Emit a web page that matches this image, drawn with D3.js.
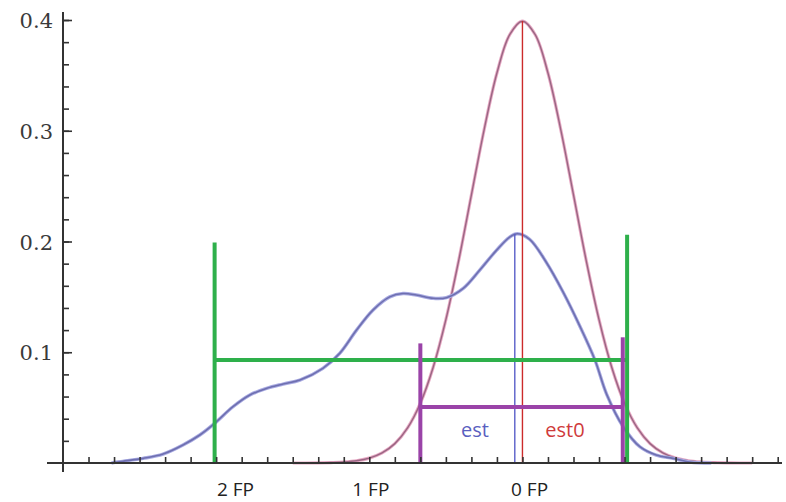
<!DOCTYPE html>
<html>
<head>
<meta charset="utf-8">
<script src="https://cdn.jsdelivr.net/npm/d3@7"></script>
<style>
  html, body { margin: 0; padding: 0; background: #ffffff; }
  svg { display: block; }
</style>
</head>
<body>
<svg id="chart" width="786" height="502"></svg>
<script>
// ---- data ----
const estX = [-8.05, -7.89, -7.43, -7.04, -6.65, -6.32, -6.03, -5.67, -5.34, -5.01, -4.69, -4.36, -3.91, -3.58, -3.25, -2.93, -2.60, -2.34, -2.08, -1.75, -1.49, -1.16, -0.84, -0.51, -0.25, -0.10, 0.14, 0.47, 0.80, 1.12, 1.42, 1.65, 1.97, 2.30, 2.62, 2.95, 3.28, 3.70];
const estY = [0, 0.0012, 0.0042, 0.0081, 0.0163, 0.0253, 0.0358, 0.0508, 0.0614, 0.0674, 0.0713, 0.0749, 0.0855, 0.099, 0.120, 0.138, 0.150, 0.153, 0.1517, 0.1487, 0.1493, 0.1577, 0.174, 0.192, 0.204, 0.207, 0.202, 0.181, 0.154, 0.124, 0.093, 0.062, 0.033, 0.0147, 0.0072, 0.0042, 0.0009, 0];

const est0X = [-4.5, -4.25, -4, -3.75, -3.5, -3.25, -3, -2.75, -2.5, -2.25, -2, -1.75, -1.5, -1.25, -1, -0.75, -0.5, -0.25, 0, 0.25, 0.5, 0.75, 1, 1.25, 1.5, 1.75, 2, 2.25, 2.5, 2.75, 3, 3.25, 3.5, 3.75, 4, 4.25, 4.5];
const est0Y = [0, 0, 0.0001, 0.0004, 0.0009, 0.0020, 0.0044, 0.0091, 0.0175, 0.0317, 0.0540, 0.0863, 0.1295, 0.1826, 0.2420, 0.3011, 0.3521, 0.3867, 0.3989, 0.3867, 0.3521, 0.3011, 0.2420, 0.1826, 0.1295, 0.0863, 0.0540, 0.0317, 0.0175, 0.0091, 0.0044, 0.0020, 0.0009, 0.0004, 0.0001, 0, 0];

const estCenter = -0.15, estPeak = 0.207;
const est0Center = 0, est0Peak = 0.399;

const greenBounds = [-6.03, 2.05];
const greenLevel = 0.093;
const greenEnds = [0.199, 0.206];

const purpleBounds = [-2.0, 1.965];
const purpleLevel = 0.0506;
const purpleEnds = [0.108, 0.1135];

const yMajorTicks = [0.1, 0.2, 0.3, 0.4];
const yMinorTicks = d3.range(0.02, 0.401, 0.02);
const xTicks = d3.range(-8.5, 5.01, 0.5);

const fpLabels = ["2 FP", "1 FP", "0 FP"];
const fpLabelAt = [-5.62, -2.97, 0.14];

// ---- scales ----
const svg = d3.select("#chart");
const x = d3.scaleLinear().domain([-9, 5]).range([63, 777.7]);
const y = d3.scaleLinear().domain([0, 0.4]).range([463, 20]);

const axisColor = "#333333";

// ---- curves ----
const line = d3.line().x(d => x(d[0])).y(d => y(d[1])).curve(d3.curveCatmullRom.alpha(0.5));

const est0Data = est0X.map((v, i) => [v, est0Y[i]]);
const estData = estX.map((v, i) => [v, estY[i]]);

svg.append("path").datum(est0Data)
  .attr("d", line).attr("fill", "none")
  .attr("stroke", "#e7a9c4").attr("stroke-width", 3.2);
svg.append("path").datum(est0Data)
  .attr("d", line).attr("fill", "none")
  .attr("stroke", "#9a6683").attr("stroke-width", 1.4);

svg.append("path").datum(estData)
  .attr("d", line).attr("fill", "none")
  .attr("stroke", "#a9abe2").attr("stroke-width", 3.4);
svg.append("path").datum(estData)
  .attr("d", line).attr("fill", "none")
  .attr("stroke", "#6e6fb0").attr("stroke-width", 1.6);

// vertical estimate lines
svg.append("line")
  .attr("x1", x(estCenter)).attr("x2", x(estCenter))
  .attr("y1", y(0)).attr("y2", y(estPeak))
  .attr("stroke", "#5a5fc8").attr("stroke-width", 1.4);
svg.append("line")
  .attr("x1", x(est0Center)).attr("x2", x(est0Center))
  .attr("y1", y(0)).attr("y2", y(est0Peak))
  .attr("stroke", "#cc2b2b").attr("stroke-width", 1.4);

// ---- interval brackets ----
function bracket(bounds, level, ends, color) {
  const g = svg.append("g").attr("stroke", color).attr("stroke-width", 4).attr("fill", "none");
  g.append("line").attr("x1", x(bounds[0])).attr("x2", x(bounds[1]))
    .attr("y1", y(level)).attr("y2", y(level));
  bounds.forEach((b, i) => {
    g.append("line").attr("x1", x(b)).attr("x2", x(b))
      .attr("y1", y(0)).attr("y2", y(ends[i]));
  });
}
bracket(greenBounds, greenLevel, greenEnds, "#2eb04b");
bracket(purpleBounds, purpleLevel, purpleEnds, "#9a43a8");

// ---- axes ----
const yAxisG = svg.append("g").attr("transform", `translate(${x(-9)},0)`);
yAxisG.call(d3.axisLeft(y).tickValues(yMinorTicks).tickSize(-6).tickFormat(""))
  .call(g => g.select(".domain").remove());
yAxisG.append("g").call(d3.axisLeft(y).tickValues(yMajorTicks).tickSize(-9).tickPadding(10)
    .tickFormat(d3.format(".1f")))
  .call(g => g.select(".domain").remove())
  .call(g => g.selectAll("text")
    .attr("font-family", "'DejaVu Serif', serif")
    .attr("font-size", 21)
    .attr("fill", "#3a3a3a")
    .attr("dy", "0.36em"));
yAxisG.selectAll("line").attr("stroke", axisColor).attr("stroke-width", 1.6);

const xAxisG = svg.append("g").attr("transform", `translate(0,${y(0)})`);
xAxisG.call(d3.axisBottom(x).tickValues(xTicks).tickSize(-6).tickFormat(""))
  .call(g => g.select(".domain").remove());
xAxisG.selectAll("line").attr("stroke", axisColor).attr("stroke-width", 1.6);

// axis lines
svg.append("line").attr("x1", 47).attr("x2", 782).attr("y1", y(0)).attr("y2", y(0))
  .attr("stroke", axisColor).attr("stroke-width", 2);
svg.append("line").attr("x1", x(-9)).attr("x2", x(-9)).attr("y1", 12).attr("y2", 472)
  .attr("stroke", axisColor).attr("stroke-width", 2);

// ---- texts ----
svg.selectAll(".fp").data(fpLabels).enter().append("text")
  .attr("class", "fp")
  .attr("x", (d, i) => x(fpLabelAt[i]))
  .attr("y", 496)
  .attr("text-anchor", "middle")
  .attr("font-family", "'Open Sans', sans-serif")
  .attr("font-size", 19)
  .attr("fill", "#222")
  .text(d => d);

svg.append("text").attr("x", 475).attr("y", 437)
  .attr("text-anchor", "middle")
  .attr("font-family", "'Open Sans', sans-serif").attr("font-size", 20)
  .attr("fill", "#5a5fc0").text("est");
svg.append("text").attr("x", 565).attr("y", 437)
  .attr("text-anchor", "middle")
  .attr("font-family", "'Open Sans', sans-serif").attr("font-size", 20)
  .attr("fill", "#cf3b3b").text("est0");
</script>
</body>
</html>
